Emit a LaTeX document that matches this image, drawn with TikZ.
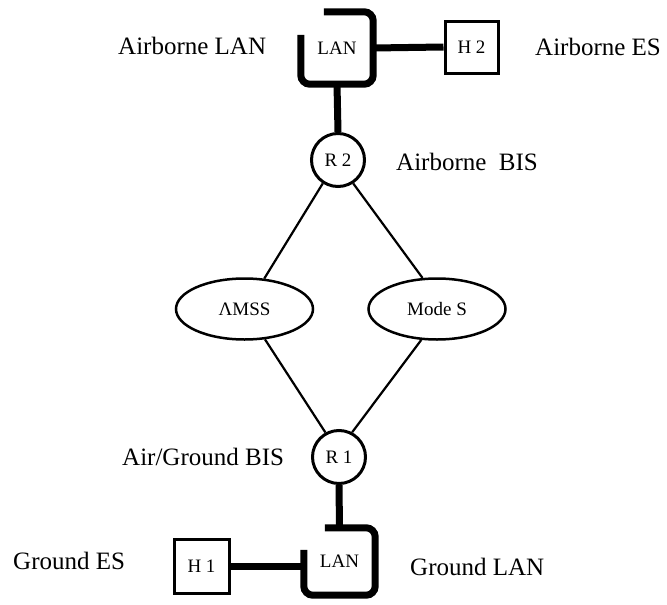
\documentclass[tikz,border=0pt]{standalone}
\usepackage{fontspec}
\setmainfont{Liberation Serif}
\usetikzlibrary{shapes.geometric}
\begin{document}
\begin{tikzpicture}[x=1pt,y=-1pt,
  lbl/.style={font=\fontsize{25}{30}\selectfont, inner sep=0pt, anchor=base west},
  innertext/.style={font=\fontsize{19}{22}\selectfont, inner sep=0pt},
  lanbox/.style={innertext, rectangle},
  hostbox/.style={innertext, rectangle, draw, line width=3pt},
  router/.style={innertext, circle, draw, line width=3pt, minimum size=53pt},
  cloud/.style={innertext, ellipse, draw, line width=2.5pt, minimum width=137pt, minimum height=61pt},
  bus/.style={line width=7pt},
  link/.style={line width=2.2pt}]
\useasboundingbox (0,0) rectangle (667,605);

\node[lanbox, minimum width=72pt, minimum height=72pt] (lanA) at (337,48) {LAN};
\node[hostbox, minimum width=53pt, minimum height=52pt] (h2) at (471.5,47) {H 2};
\node[router] (r2) at (338,160) {R 2};
\node[cloud] (amss) at (244.5,309) {ΛMSS};
\node[cloud] (modes) at (437,309) {Mode S};
\node[router] (r1) at (339,457) {R 1};
\node[lanbox, minimum width=71pt, minimum height=67pt] (lanB) at (339.5,561.5) {LAN};
\node[hostbox, minimum width=55pt, minimum height=54pt] (h1) at (201.5,566) {H 1};

\draw[bus, rounded corners=9pt] ([xshift=23pt]lanA.north west) -- (lanA.north east) -- (lanA.south east) -- (lanA.south west) -- ([yshift=-23pt]lanA.north west);
\draw[bus, rounded corners=9pt] ([xshift=21pt]lanB.north west) -- (lanB.north east) -- (lanB.south east) -- (lanB.south west) -- ([yshift=-22pt]lanB.north west);

\draw[bus] (lanA.east) -- (h2.west);
\draw[bus] (lanA.south) -- (r2.north);
\draw[bus] (r1.south) -- (lanB.north);
\draw[bus] (h1.east) -- (lanB.west |- h1.east);

\draw[link] (r2.237) -- (amss.57);
\draw[link] (r2.303) -- (modes.115);
\draw[link] (amss.304) -- (r1.119);
\draw[link] (modes.243) -- (r1.62);

\node[lbl] (labAL) at (118,54) {Airborne LAN};
\node[lbl] (labAES) at (535,55) {Airborne ES};
\node[lbl] (labABIS) at (396,170) {Airborne\ \ BIS};
\node[lbl] (labAGB) at (122,465) {Air/Ground BIS};
\node[lbl] (labGES) at (13,569) {Ground ES};
\node[lbl] (labGL) at (410,575) {Ground LAN};
\end{tikzpicture}
\end{document}
